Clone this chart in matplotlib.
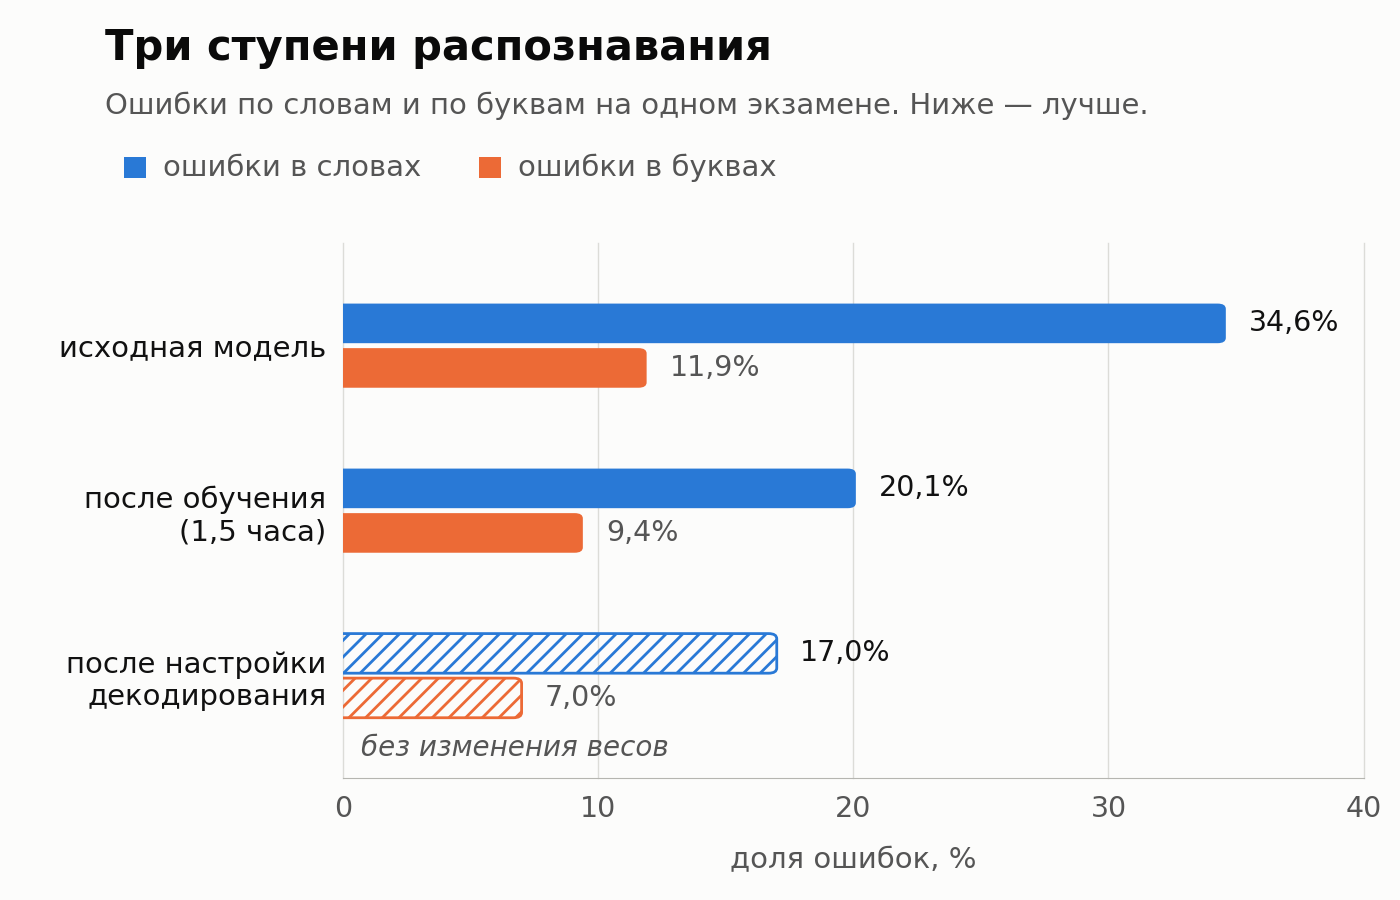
import matplotlib.pyplot as plt
from matplotlib.patches import FancyBboxPatch, Rectangle

# данные
stages = ['исходная модель', 'после обучения\n(1,5 часа)', 'после настройки\nдекодирования']
word_err = [34.6, 20.1, 17.0]
char_err = [11.9, 9.4, 7.0]
hatched = [False, False, True]

blue = '#2979d6'
orange = '#ec6a36'
bg = '#fcfcfb'

plt.rcParams['font.family'] = ['DejaVu Sans']
plt.rcParams['hatch.linewidth'] = 2.0

fig = plt.figure(figsize=(14, 9), dpi=100, facecolor=bg)
ax = fig.add_axes([0.245, 0.1356, 0.729, 0.594])
ax.set_facecolor(bg)
ax.set_xlim(0, 40)
ax.set_ylim(2.62, -0.62)

bh = 0.24
off = 0.135
clip_rect = Rectangle((0, -1), 50, 5, transform=ax.transData)


def draw_bar(y, val, color, hatch):
    r = 0.32
    p = FancyBboxPatch((-1.0, y - bh / 2), val + 1.0, bh,
                       boxstyle='round,pad=0,rounding_size=%f' % r,
                       mutation_aspect=0.1,
                       facecolor='none' if hatch else color,
                       edgecolor=color if hatch else 'none',
                       hatch='//' if hatch else None,
                       linewidth=2, zorder=3)
    ax.add_patch(p)
    p.set_clip_path(clip_rect)


for i in range(len(stages)):
    yb = i - off
    yo = i + off
    draw_bar(yb, word_err[i], blue, hatched[i])
    draw_bar(yo, char_err[i], orange, hatched[i])
    ax.text(word_err[i] + 0.9, yb, f'{word_err[i]:.1f}%'.replace('.', ','),
            va='center', ha='left', fontsize=20.5, color='#111111')
    ax.text(char_err[i] + 0.9, yo, f'{char_err[i]:.1f}%'.replace('.', ','),
            va='center', ha='left', fontsize=20.5, color='#555555')

ax.text(0.7, 2.44, 'без изменения весов', style='italic', fontsize=20,
        color='#555555', va='center', ha='left')

ax.set_yticks(range(len(stages)))
ax.set_yticklabels(stages, fontsize=21, color='#111111')
ax.set_xticks([0, 10, 20, 30, 40])
ax.tick_params(axis='x', labelsize=20.5, labelcolor='#555555', length=0, pad=12)
ax.tick_params(axis='y', length=0, pad=12)
ax.grid(axis='x', color='#dcdcd8', linewidth=1)
for gl in ax.get_xgridlines():
    gl.set_clip_on(False)
ax.set_axisbelow(True)
for s in ['top', 'right', 'left']:
    ax.spines[s].set_visible(False)
ax.spines['bottom'].set_color('#b5b5b0')
ax.set_xlabel('доля ошибок, %', fontsize=21, color='#555555', labelpad=17)

fig.text(0.075, 0.947, 'Три ступени распознавания', fontsize=30, fontweight='bold',
         color='#0a0a0a', va='center')
fig.text(0.075, 0.883, 'Ошибки по словам и по буквам на одном экзамене. Ниже — лучше.',
         fontsize=21, color='#555555', va='center')

# легенда
fig.patches.append(Rectangle((124 / 1400, 1 - 178 / 900), 22 / 1400, 21 / 900,
                             transform=fig.transFigure, facecolor=blue, edgecolor='none'))
fig.text(163 / 1400, 1 - 168 / 900, 'ошибки в словах', fontsize=21, color='#555555', va='center')
fig.patches.append(Rectangle((479 / 1400, 1 - 178 / 900), 22 / 1400, 21 / 900,
                             transform=fig.transFigure, facecolor=orange, edgecolor='none'))
fig.text(518 / 1400, 1 - 168 / 900, 'ошибки в буквах', fontsize=21, color='#555555', va='center')

fig.savefig('out.png', dpi=100, facecolor=bg)
